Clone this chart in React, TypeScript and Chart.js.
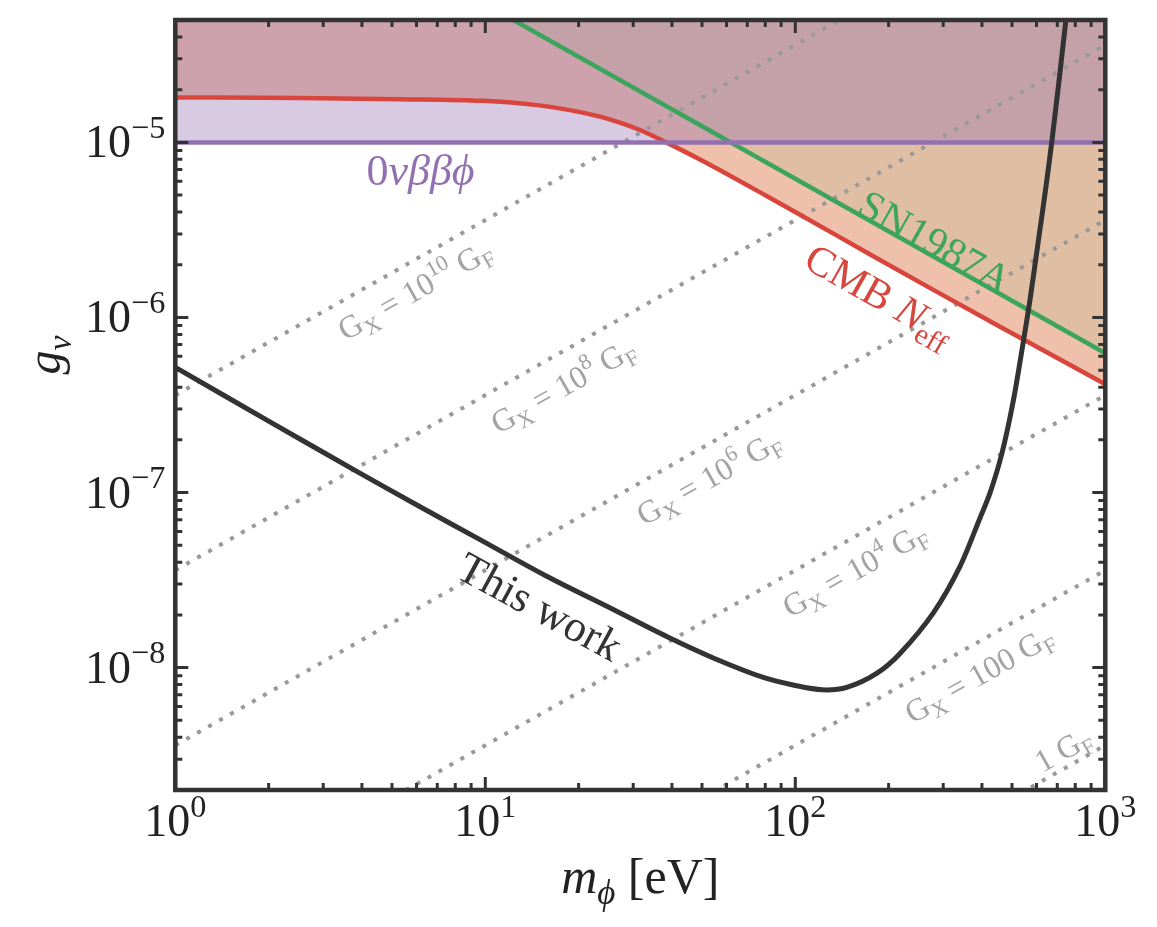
import React, { useEffect, useRef } from 'react';
import { Chart, registerables } from 'chart.js';

Chart.register(...registerables);

// Axis ranges (log scales)
const X_MIN = 1;
const X_MAX = 1000;
const Y_MIN = 2e-9;
const Y_MAX = 5e-5;

// Tick decades shown as 10^k labels
const X_TICK_EXP = [0, 1, 2, 3];
const Y_TICK_EXP = [-8, -7, -6, -5];

// CMB N_eff bound
const CMB_M = [1, 2.525, 5.306, 9.83, 14.69, 18.76, 23.44, 27.2, 31.55, 38.48, 49.27, 63.1, 80.85, 103.6, 169.9, 278.8, 457.5, 1000];
const CMB_G = [1.806e-5, 1.794e-5, 1.766e-5, 1.727e-5, 1.632e-5, 1.529e-5, 1.403e-5, 1.297e-5, 1.176e-5, 9.97e-6, 7.98e-6, 6.3e-6, 4.94e-6, 3.864e-6, 2.351e-6, 1.437e-6, 8.84e-7, 4.16e-7];

// SN1987A bound
const SN_M = [10, 1000];
const SN_G = [6.15e-5, 6.25e-7];

// 0νββϕ bound
const BB_M = [1, 1000];
const BB_G = [1e-5, 1e-5];

// This work
const TW_M = [1, 2, 3.848, 6.2, 9.614, 15.78, 25.87, 38.48, 54.39, 78.84, 100, 122, 146.5, 183, 217.7, 278.8, 339.9, 394.3, 424.8, 464.3, 505.7, 540.7, 571.6, 608.7, 641.3, 673.1, 744, 752];
const TW_G = [5.19e-7, 2.56e-7, 1.321e-7, 8.24e-8, 5.386e-8, 3.327e-8, 2.148e-8, 1.506e-8, 1.136e-8, 8.79e-9, 7.91e-9, 7.47e-9, 7.71e-9, 9.27e-9, 1.205e-8, 2.056e-8, 3.79e-8, 7.16e-8, 9.95e-8, 1.682e-7, 3.39e-7, 6.82e-7, 1.26e-6, 2.77e-6, 5.34e-6, 1.03e-5, 4.77e-5, 6.49e-5];

// Contours of constant G_X (dotted), endpoints at m = 1 and m = 1000
const GX_M = [1, 1000];
const GX_G_LO = [3.6e-7, 3.6e-8, 3.6e-9, 3.6e-10, 3.6e-11, 3.6e-12];
const GX_G_HI = [3.6e-4, 3.6e-5, 3.6e-6, 3.6e-7, 3.6e-8, 3.6e-9];
const GX_MANTISSA = ['10', '10', '10', '10', '100', '1'];
const GX_EXPONENT = ['10', '8', '6', '4', '', ''];
const GX_SHOW_PREFIX = [true, true, true, true, true, false];
// label anchors (m, g) for each contour
const GX_LABEL_M = [5.93, 17.8, 52.6, 155.6, 391.6, 730.2];
const GX_LABEL_G = [1.437e-6, 4.07e-7, 1.216e-7, 3.63e-8, 9.14e-9, 3.41e-9];

const FONT = "'Liberation Serif', 'DejaVu Serif', serif";
const INK = '#333333';
const RED = '#d8453d';
const GREEN = '#3ca45c';
const PURPLE = '#9370b0';
const DOT_GRAY = '#999999';
const TEXT_GRAY = '#a3a3a3';

type Run = { t: string; it?: boolean; sub?: boolean; sup?: boolean };

function runFont(r: Run, size: number) {
  const s = r.sub || r.sup ? size * 0.7 : size;
  return `${r.it ? 'italic ' : ''}${s}px ${FONT}`;
}

function runsWidth(ctx: CanvasRenderingContext2D, runs: Run[], size: number) {
  let w = 0;
  for (const r of runs) {
    ctx.font = runFont(r, size);
    w += ctx.measureText(r.t).width;
  }
  return w;
}

function drawRuns(
  ctx: CanvasRenderingContext2D,
  runs: Run[],
  x: number,
  y: number,
  size: number,
  align: 'left' | 'center' | 'right',
) {
  const w = runsWidth(ctx, runs, size);
  let cx = align === 'center' ? x - w / 2 : align === 'right' ? x - w : x;
  ctx.textAlign = 'left';
  ctx.textBaseline = 'alphabetic';
  for (const r of runs) {
    ctx.font = runFont(r, size);
    const dy = r.sup ? -size * 0.42 : r.sub ? size * 0.22 : 0;
    ctx.fillText(r.t, cx, y + dy);
    cx += ctx.measureText(r.t).width;
  }
}

function drawLabel(
  ctx: CanvasRenderingContext2D,
  runs: Run[],
  px: number,
  py: number,
  angleDeg: number,
  size: number,
  color: string,
) {
  ctx.save();
  ctx.translate(px, py);
  ctx.rotate((angleDeg * Math.PI) / 180);
  ctx.fillStyle = color;
  drawRuns(ctx, runs, 0, size * 0.33, size, 'center');
  ctx.restore();
}

function pts(xs: number[], ys: number[]) {
  return xs.map((x, i) => ({ x, y: ys[i] }));
}

const frameAndLabels = {
  id: 'frameAndLabels',
  afterDatasetsDraw(chart: any) {
    const ctx: CanvasRenderingContext2D = chart.ctx;
    const xs = chart.scales.x;
    const ys = chart.scales.y;
    const area = chart.chartArea;

    // G_X contour labels, clipped to the plotting area
    ctx.save();
    ctx.beginPath();
    ctx.rect(area.left, area.top, area.right - area.left, area.bottom - area.top);
    ctx.clip();
    GX_MANTISSA.forEach((mant, i) => {
      const runs: Run[] = GX_SHOW_PREFIX[i]
        ? [{ t: 'G' }, { t: 'X', sub: true }, { t: ' = ' + mant }]
        : [{ t: mant }];
      if (GX_EXPONENT[i]) runs.push({ t: GX_EXPONENT[i], sup: true });
      runs.push({ t: ' G' }, { t: 'F', sub: true });
      drawLabel(
        ctx,
        runs,
        xs.getPixelForValue(GX_LABEL_M[i]),
        ys.getPixelForValue(GX_LABEL_G[i]),
        -29.5,
        32,
        TEXT_GRAY,
      );
    });
    ctx.restore();

    // Bound labels
    drawLabel(ctx, [{ t: '0' }, { t: 'νββϕ', it: true }], xs.getPixelForValue(6.18), ys.getPixelForValue(6.9e-6), 0, 44, PURPLE);
    drawLabel(ctx, [{ t: 'SN1987A' }], xs.getPixelForValue(282), ys.getPixelForValue(2.7e-6), 29.5, 42, GREEN);
    drawLabel(
      ctx,
      [{ t: 'CMB ' }, { t: 'N', it: true }, { t: 'eff', sub: true }],
      xs.getPixelForValue(187.6),
      ys.getPixelForValue(1.345e-6),
      29.5,
      42,
      RED,
    );
    drawLabel(ctx, [{ t: 'This work' }], xs.getPixelForValue(15.0), ys.getPixelForValue(2.23e-8), 28.5, 44, INK);
  },
  afterDraw(chart: any) {
    const ctx: CanvasRenderingContext2D = chart.ctx;
    const xs = chart.scales.x;
    const ys = chart.scales.y;
    const { left, right, top, bottom } = chart.chartArea;

    ctx.save();
    ctx.strokeStyle = INK;
    ctx.lineCap = 'butt';

    // ticks pointing inward on all four sides
    const MAJOR = 13;
    const MINOR = 7;
    ctx.lineWidth = 3;
    for (let d = 0; d <= 3; d++) {
      for (let k = 1; k <= 9; k++) {
        const v = k * Math.pow(10, d);
        if (v < X_MIN || v > X_MAX) continue;
        const px = xs.getPixelForValue(v);
        const len = k === 1 ? MAJOR : MINOR;
        ctx.beginPath();
        ctx.moveTo(px, bottom);
        ctx.lineTo(px, bottom - len);
        ctx.moveTo(px, top);
        ctx.lineTo(px, top + len);
        ctx.stroke();
      }
    }
    for (let d = -9; d <= -5; d++) {
      for (let k = 1; k <= 9; k++) {
        const v = k * Math.pow(10, d);
        if (v < Y_MIN * 0.999 || v > Y_MAX * 1.001) continue;
        const py = ys.getPixelForValue(v);
        const len = k === 1 ? MAJOR : MINOR;
        ctx.beginPath();
        ctx.moveTo(left, py);
        ctx.lineTo(left + len, py);
        ctx.moveTo(right, py);
        ctx.lineTo(right - len, py);
        ctx.stroke();
      }
    }

    // frame
    ctx.lineWidth = 4.5;
    ctx.strokeRect(left, top, right - left, bottom - top);

    // tick labels
    ctx.fillStyle = '#222222';
    const TICK = 46;
    X_TICK_EXP.forEach((e) => {
      const px = xs.getPixelForValue(Math.pow(10, e));
      drawRuns(ctx, [{ t: '10' }, { t: String(e), sup: true }], px, bottom + 46, TICK, 'center');
    });
    Y_TICK_EXP.forEach((e) => {
      const py = ys.getPixelForValue(Math.pow(10, e));
      drawRuns(ctx, [{ t: '10' }, { t: '−' + String(-e), sup: true }], left - 10, py + 15, TICK, 'right');
    });

    // axis titles
    drawRuns(
      ctx,
      [{ t: 'm', it: true }, { t: 'ϕ', it: true, sub: true }, { t: ' [eV]' }],
      (left + right) / 2,
      bottom + 103,
      50,
      'center',
    );
    ctx.save();
    ctx.translate(60, 355);
    ctx.rotate(-Math.PI / 2);
    drawRuns(ctx, [{ t: 'g', it: true }, { t: 'ν', it: true, sub: true }], 0, 0, 48, 'center');
    ctx.restore();

    ctx.restore();
  },
};

export default function App() {
  const ref = useRef<HTMLCanvasElement>(null);

  useEffect(() => {
    const gxSets = GX_G_LO.map((lo, i) => ({
      data: pts(GX_M, [lo, GX_G_HI[i]]),
      borderColor: DOT_GRAY,
      borderWidth: 4,
      borderDash: [4, 8.6],
      borderCapStyle: 'butt' as const,
      fill: false,
      order: 10,
      clip: 0,
    }));

    const chart = new Chart(ref.current as HTMLCanvasElement, {
      type: 'line',
      data: {
        datasets: [
          ...gxSets,
          {
            data: pts(CMB_M, CMB_G),
            borderColor: RED,
            borderWidth: 4.5,
            backgroundColor: 'rgba(215, 97, 45, 0.4)',
            fill: 'end',
            cubicInterpolationMode: 'monotone',
            order: 5,
            clip: 0,
          },
          {
            data: pts(SN_M, SN_G),
            borderColor: GREEN,
            borderWidth: 4.5,
            backgroundColor: 'rgba(64, 163, 92, 0.09)',
            fill: 'end',
            order: 4,
            clip: 0,
          },
          {
            data: pts(BB_M, BB_G),
            borderColor: PURPLE,
            borderWidth: 4.5,
            backgroundColor: 'rgba(147, 112, 177, 0.37)',
            fill: 'end',
            order: 3,
            clip: 0,
          },
          {
            data: pts(TW_M, TW_G),
            borderColor: INK,
            borderWidth: 5,
            fill: false,
            tension: 0.3,
            order: 0,
            clip: 0,
          },
        ] as any,
      },
      options: {
        responsive: false,
        animation: false,
        devicePixelRatio: 1,
        layout: { padding: { left: 175.3, right: 51.7, top: 20, bottom: 137 } },
        scales: {
          x: { type: 'logarithmic', min: X_MIN, max: X_MAX, display: false },
          y: { type: 'logarithmic', min: Y_MIN, max: Y_MAX, display: false },
        },
        elements: { point: { radius: 0 }, line: { borderJoinStyle: 'round' } },
        plugins: {
          legend: { display: false },
          tooltip: { enabled: false },
          filler: { drawTime: 'beforeDatasetsDraw' },
        } as any,
      },
      plugins: [frameAndLabels],
    });
    return () => chart.destroy();
  }, []);

  return (
    <div style={{ position: 'fixed', left: 0, top: 0, width: 1157, height: 927, background: '#ffffff' }}>
      <canvas ref={ref} width={1157} height={927} style={{ width: 1157, height: 927, display: 'block' }} />
    </div>
  );
}
